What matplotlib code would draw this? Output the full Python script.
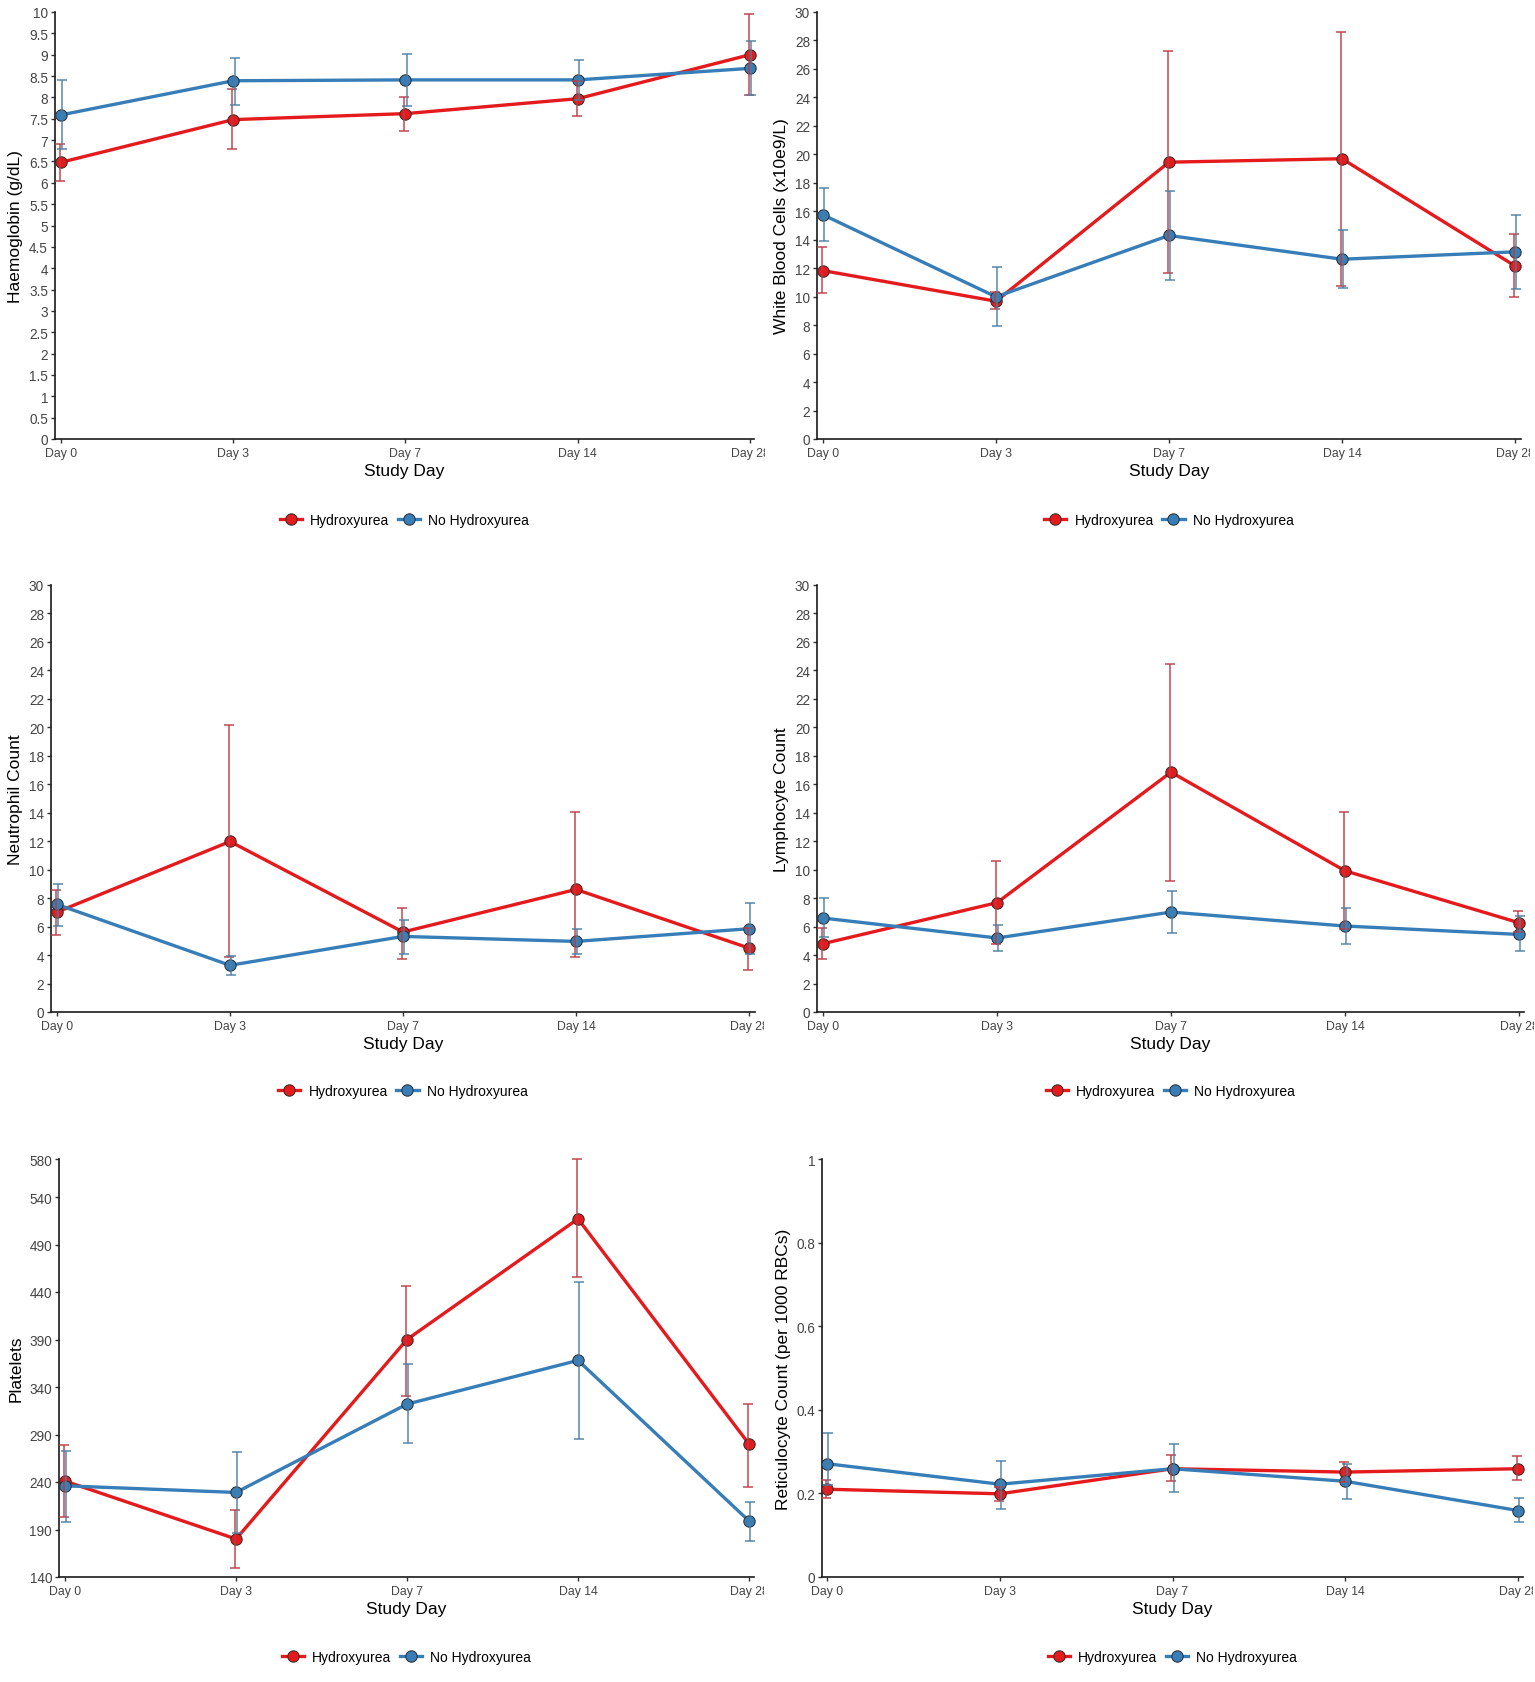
import matplotlib
matplotlib.use('Agg')
import matplotlib.pyplot as plt
from matplotlib.transforms import Bbox, TransformedBbox
from matplotlib.lines import Line2D
import numpy as np

plt.rcParams['font.family'] = ['Liberation Sans', 'DejaVu Sans']

# ---------------- data ----------------
days = ['Day 0', 'Day 3', 'Day 7', 'Day 14', 'Day 28']
groups = ['Hydroxyurea', 'No Hydroxyurea']

# Haemoglobin (g/dL)
hb_hu = [6.48, 7.48, 7.62, 7.97, 9.00]
hb_hu_lo = [6.05, 6.78, 7.21, 7.56, 8.05]
hb_hu_hi = [6.90, 8.19, 8.02, 8.38, 9.96]
hb_no = [7.59, 8.39, 8.41, 8.41, 8.68]
hb_no_lo = [6.80, 7.83, 7.80, 7.95, 8.05]
hb_no_hi = [8.40, 8.93, 9.02, 8.88, 9.31]

# White blood cells
wbc_hu = [11.83, 9.68, 19.45, 19.69, 12.16]
wbc_hu_lo = [10.25, 9.10, 11.67, 10.78, 9.96]
wbc_hu_hi = [13.50, 10.30, 27.23, 28.60, 14.41]
wbc_no = [15.75, 9.99, 14.30, 12.63, 13.15]
wbc_no_lo = [13.90, 7.92, 11.20, 10.60, 10.55]
wbc_no_hi = [17.60, 12.07, 17.40, 14.70, 15.77]

# Neutrophil count
neu_hu = [7.02, 11.98, 5.62, 8.61, 4.49]
neu_hu_lo = [5.38, 3.86, 3.70, 3.86, 2.97]
neu_hu_hi = [8.59, 20.13, 7.33, 14.02, 5.90]
neu_no = [7.56, 3.28, 5.31, 4.96, 5.85]
neu_no_lo = [6.01, 2.62, 4.10, 4.05, 4.05]
neu_no_hi = [9.01, 3.91, 6.48, 5.85, 7.68]

# Lymphocyte count
lym_hu = [4.80, 7.68, 16.85, 9.92, 6.27]
lym_hu_lo = [3.74, 4.75, 9.20, 5.85, 5.60]
lym_hu_hi = [5.90, 10.62, 24.48, 14.02, 7.07]
lym_no = [6.60, 5.20, 7.02, 6.04, 5.45]
lym_no_lo = [5.27, 4.26, 5.57, 4.80, 4.26]
lym_no_hi = [8.00, 6.08, 8.47, 7.30, 6.74]

# Platelets
plt_hu = [241, 180, 390, 517, 280]
plt_hu_lo = [203, 150, 331, 456, 235]
plt_hu_hi = [279, 211, 446, 580, 322]
plt_no = [236, 229, 322, 368, 199]
plt_no_lo = [198, 186, 281, 285, 178]
plt_no_hi = [273, 272, 364, 451, 219]

# Reticulocyte count (per 1000 RBCs)
ret_hu = [0.210, 0.199, 0.259, 0.251, 0.259]
ret_hu_lo = [0.190, 0.183, 0.229, 0.227, 0.232]
ret_hu_hi = [0.231, 0.215, 0.292, 0.275, 0.289]
ret_no = [0.271, 0.222, 0.259, 0.229, 0.159]
ret_no_lo = [0.220, 0.163, 0.203, 0.187, 0.131]
ret_no_hi = [0.344, 0.277, 0.318, 0.271, 0.189]

hb_ticks = [i * 0.5 for i in range(21)]
count_ticks = list(range(0, 31, 2))
plt_ticks = [140, 190, 240, 290, 340, 390, 440, 490, 540, 580]
ret_ticks = [0, 0.2, 0.4, 0.6, 0.8, 1.0]

# ---------------- style ----------------
RED = '#E41A1C'
BLUE = '#377EB8'
RED_EB = '#BE3A42'
BLUE_EB = '#4A7EA3'
EDGE = '#2b2b2b'
TICKC = '#444444'

W, H = 1535, 1683
fig = plt.figure(figsize=(W / 100, H / 100), dpi=100)

panels = [
    # (L, R, D0, D4, top, bottom, legend_y, ylabel, ylim, yticks, series)
    (55, 754, 61, 750, 13, 440, 521, 'Haemoglobin (g/dL)', (0, 10), hb_ticks,
     (hb_hu, hb_hu_lo, hb_hu_hi, hb_no, hb_no_lo, hb_no_hi)),
    (817, 1521, 823, 1515, 13, 440, 521, 'White Blood Cells (x10e9/L)', (0, 30), count_ticks,
     (wbc_hu, wbc_hu_lo, wbc_hu_hi, wbc_no, wbc_no_lo, wbc_no_hi)),
    (51, 755, 57, 749, 586, 1013, 1092, 'Neutrophil Count', (0, 30), count_ticks,
     (neu_hu, neu_hu_lo, neu_hu_hi, neu_no, neu_no_lo, neu_no_hi)),
    (817, 1524, 823, 1519, 586, 1013, 1092, 'Lymphocyte Count', (0, 30), count_ticks,
     (lym_hu, lym_hu_lo, lym_hu_hi, lym_no, lym_no_lo, lym_no_hi)),
    (59, 754, 65, 749, 1160, 1578, 1658, 'Platelets', (140, 580), plt_ticks,
     (plt_hu, plt_hu_lo, plt_hu_hi, plt_no, plt_no_lo, plt_no_hi)),
    (822, 1523, 827, 1518, 1160, 1578, 1658, 'Reticulocyte Count (per 1000 RBCs)', (0, 1), ret_ticks,
     (ret_hu, ret_hu_lo, ret_hu_hi, ret_no, ret_no_lo, ret_no_hi)),
]

x = np.arange(len(days))
LW = 2.4
MS = 8.2

for (L, R, D0, D4, top, bot, leg_y, ylabel, ylim, yticks, series) in panels:
    ax = fig.add_axes([L / W, 1 - bot / H, (R - L) / W, (bot - top) / H])
    ppu = (D4 - D0) / 4.0
    ax.set_xlim((L - D0) / ppu, 4 + (R - D4) / ppu)
    ax.set_ylim(*ylim)
    hu, hu_lo, hu_hi, no, no_lo, no_hi = [np.array(s, dtype=float) for s in series]

    # lines
    ax.plot(x, hu, color=RED, lw=LW, zorder=2, solid_capstyle='round')
    ax.plot(x, no, color=BLUE, lw=LW, zorder=2, solid_capstyle='round')
    # points
    ax.plot(x, hu, 'o', ms=MS, mfc=RED, mec=EDGE, mew=0.7, zorder=3, clip_on=False)
    ax.plot(x, no, 'o', ms=MS, mfc=BLUE, mec=EDGE, mew=0.7, zorder=3, clip_on=False)
    # error bars (slight dodge)
    ax.errorbar(x - 0.006, hu, yerr=[hu - hu_lo, hu_hi - hu], fmt='none', ecolor=RED_EB,
                elinewidth=1.2, capsize=3.4, capthick=1.2, alpha=0.85, zorder=4, clip_on=False)
    ax.errorbar(x + 0.008, no, yerr=[no - no_lo, no_hi - no], fmt='none', ecolor=BLUE_EB,
                elinewidth=1.2, capsize=3.4, capthick=1.2, alpha=0.85, zorder=4, clip_on=False)

    ax.set_xticks(x, days)
    ax.set_yticks(yticks, ['{:g}'.format(t) for t in yticks])
    for s in ['top', 'right']:
        ax.spines[s].set_visible(False)
    for s in ['left', 'bottom']:
        ax.spines[s].set_linewidth(1.2)
        ax.spines[s].set_color('#1a1a1a')
    ax.tick_params(axis='both', direction='out', length=3, width=1.0, color='#333333',
                   labelcolor=TICKC)
    ax.tick_params(axis='x', labelsize=8.8, pad=3)
    ax.tick_params(axis='y', labelsize=9.8, pad=2)
    ax.set_ylabel(ylabel, fontsize=12.5, color='black', labelpad=4)
    ax.set_xlabel('Study Day', fontsize=12.5, color='black', labelpad=3)

    clip_r = D4 + 15
    clipbox = TransformedBbox(Bbox([[0, 0], [clip_r / W, 1]]), fig.transFigure)
    for lab in ax.get_xticklabels():
        lab.set_clip_box(clipbox)
        lab.set_clip_on(True)

    handles = [Line2D([], [], color=RED, lw=LW, marker='o', ms=MS, mfc=RED, mec=EDGE, mew=0.7),
               Line2D([], [], color=BLUE, lw=LW, marker='o', ms=MS, mfc=BLUE, mec=EDGE, mew=0.7)]
    ay = -(leg_y - bot) / (bot - top)
    ax.legend(handles, groups, loc='center', bbox_to_anchor=(0.5, ay), ncol=2, frameon=False,
              fontsize=10, handlelength=1.6, handletextpad=0.6, columnspacing=0.6)

fig.savefig('out.png', dpi=100)
